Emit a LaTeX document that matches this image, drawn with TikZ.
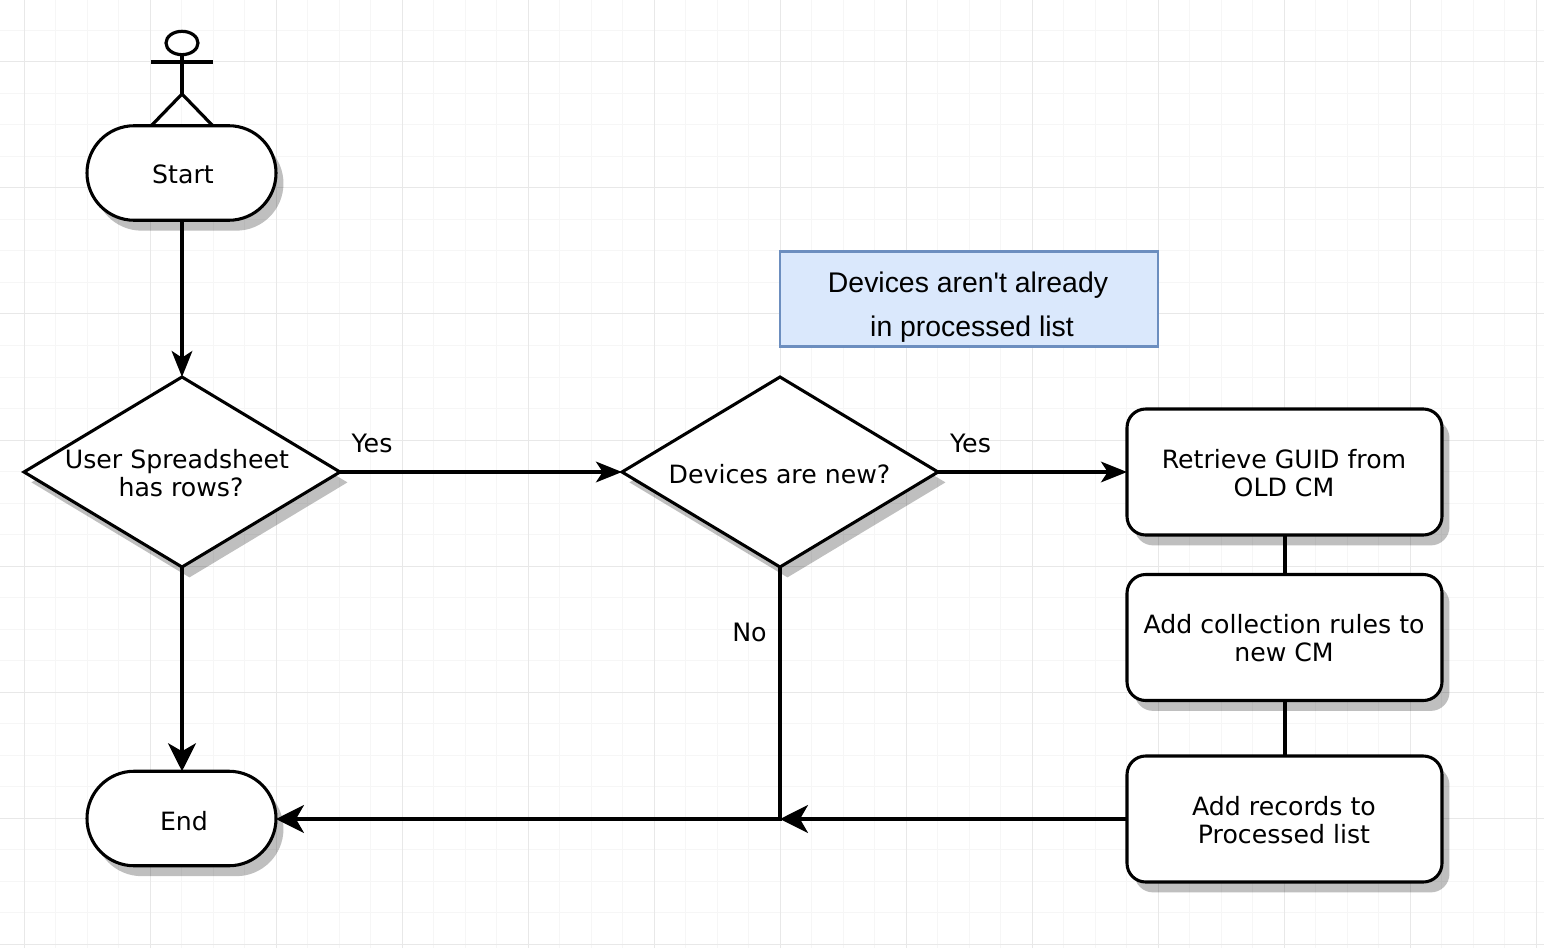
\documentclass[tikz,border=0pt]{standalone}
\usepackage{fontspec}
\setmainfont{DejaVu Sans}
\newfontfamily\notefont{Liberation Sans}
\usetikzlibrary{shapes.geometric,shadows,arrows.meta}
\definecolor{gridmajor}{HTML}{E8E8E8}
\definecolor{gridminor}{HTML}{F6F6F6}
\definecolor{notefill}{HTML}{DAE8FC}
\definecolor{noteline}{HTML}{6C8EBF}
\tikzset{
  x=0.75pt,y=-0.75pt,
  flowshadow/.style={drop shadow={shadow xshift=5.6pt,shadow yshift=-7.8pt,fill=black,opacity=0.25}},
  base/.style={draw=black,fill=white,line width=2.3pt,inner sep=0pt,outer sep=0pt},
  terminal/.style={base,flowshadow,rectangle,rounded corners=35.4pt,minimum width=141.75pt,minimum height=70.9pt},
  decision/.style={base,flowshadow,diamond,aspect=1.66,minimum width=237pt,minimum height=142.5pt},
  process/.style={base,flowshadow,rectangle,rounded corners=14pt,minimum width=236.25pt,minimum height=94.5pt},
  notebox/.style={draw=noteline,fill=notefill,line width=2.1pt,inner sep=0pt,outer sep=0pt,rectangle,
    minimum width=283.5pt,minimum height=70.9pt},
  notetext/.style={inner sep=0pt,align=center,font=\notefont\fontsize{21.3}{33}\selectfont},
  flowlabel/.style={inner sep=0pt,font=\fontsize{19}{21}\selectfont},
  inner/.style={inner sep=0pt,align=center,font=\fontsize{18.9}{21}\selectfont},
  conn/.style={line width=2.4pt,draw=black},
  arrowsmall/.style={conn,line width=2.3pt,-{Stealth[length=19.5pt,width=15.5pt,inset=5pt]}},
  arrowlarge/.style={conn,-{Stealth[length=21pt,width=21pt,inset=6pt]}},
  figure/.style={line width=2.4pt,draw=black}
}
\begin{document}
\begin{tikzpicture}
\useasboundingbox (0,0) rectangle (1544,948);
\fill[white] (0,0) rectangle (1544,948);
% grid
\foreach \k in {0,...,48}{
  \draw[gridminor,line width=.75pt] ({24+31.5*\k},0) -- ({24+31.5*\k},948);
}
\foreach \k in {0,...,29}{
  \draw[gridminor,line width=.75pt] (0,{-1+31.5*\k}) -- (1544,{-1+31.5*\k});
}
\foreach \k in {0,...,12}{
  \draw[gridmajor,line width=.75pt] ({24+126*\k},0) -- ({24+126*\k},948);
}
\foreach \k in {0,...,7}{
  \draw[gridmajor,line width=.75pt] (0,{62+126*\k}) -- (1544,{62+126*\k});
}
% actor
\node[figure,ellipse,fill=white,minimum width=24pt,minimum height=17.5pt,inner sep=0pt,outer sep=0pt] (head) at (182,43) {};
\coordinate (armL) at (151,62);
\coordinate (armR) at (213,62);
\coordinate (hip) at (182,94);
\coordinate (legL) at (151,126);
\coordinate (legR) at (213,126);
\draw[figure] (head) -- (hip);
\draw[figure] (armL) -- (armR);
\draw[figure] (legL) -- (hip) -- (legR);
% nodes
\node[terminal] (start) at (181.5,173) {};
\node[inner] (startt) at (183,174) {Start};
\node[terminal] (end) at (181.5,818.5) {};
\node[inner] (endt) at (184,821) {End};
\node[decision] (d1) at (182,472) {};
\node[inner] (d1t) at (181,473) {User Spreadsheet\hspace*{6pt}\\has rows?};
\node[decision] (d2) at (780,472) {};
\node[inner] (d2t) at (779.5,474) {Devices are new?};
\node[process] (p1) at (1284.5,472) {};
\node[inner] (p1t) at (1284,473) {Retrieve GUID from\\OLD CM};
\node[process] (p2) at (1284.5,637.5) {};
\node[inner] (p2t) at (1284,638) {Add collection rules to\\new CM};
\node[process] (p3) at (1284.5,819) {};
\node[inner] (p3t) at (1284,820) {Add records to\\Processed list};
\node[notebox] (note) at (969,299) {};
\node[notetext] (notet) at (970,307) {Devices aren't already\hspace*{3pt}\\\hspace*{3pt}in processed list};
% connector labels
\node[flowlabel] (l1) at (372,443) {Yes};
\node[flowlabel] (l2) at (970.5,443) {Yes};
\node[flowlabel] (l3) at (749.5,632) {No};
% connectors
\coordinate (junction) at (780,819);
\draw[arrowsmall] (start.south -| d1.north) -- (d1.north);
\draw[arrowlarge] (d1.south) -- (end.north -| d1.south);
\draw[arrowsmall] (d1) -- (d2);
\draw[arrowsmall,line width=2.4pt] (d2) -- (p1);
\draw[arrowlarge] (d2.south) -- (junction) -- (end.east |- junction);
\draw[conn] (p1.south -| 1285,0) -- (p2.north -| 1285,0);
\draw[conn] (p2.south -| 1285,0) -- (p3.north -| 1285,0);
\draw[arrowlarge] (p3.west |- junction) -- (junction);
\end{tikzpicture}
\end{document}
